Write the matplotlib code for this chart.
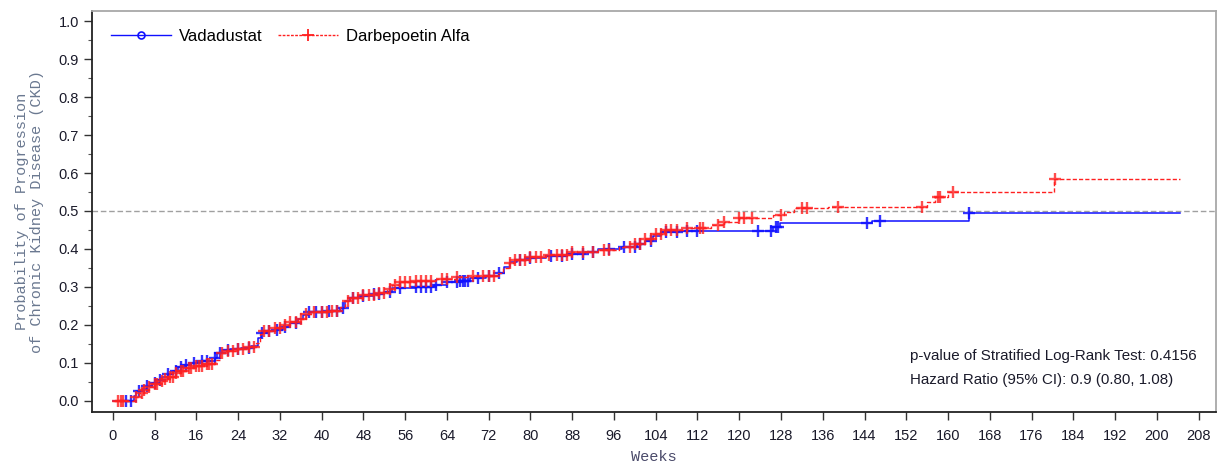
import numpy as np
import matplotlib
matplotlib.use("Agg")
import matplotlib.pyplot as plt

# Kaplan-Meier style cumulative incidence: step times (weeks) and values
vada_t = [0, 4.0, 4.5, 5.5, 6.5, 7.5, 8.5, 9.5, 10.5, 11.5, 12.5, 13.5, 15.0, 17.0,
          19.5, 20.0, 21.0, 22.5, 24.5, 26.5, 27.8, 28.3, 29.5, 31.0, 32.5, 34.0,
          35.5, 36.5, 37.5, 41.0, 43.5, 44.5, 45.5, 47.5, 50.0, 52.0, 53.5, 58.0,
          61.5, 64.0, 66.5, 68.5, 71.5, 74.0, 75.0, 76.0, 77.5, 80.0, 83.0, 87.0,
          90.5, 93.0, 97.5, 100.5, 102.0, 103.5, 105.0, 108.5, 126.5, 127.8, 145.5,
          164.0]
vada_p = [0.0, 0.012, 0.025, 0.032, 0.040, 0.048, 0.055, 0.062, 0.070, 0.078, 0.088,
          0.095, 0.100, 0.104, 0.112, 0.125, 0.133, 0.137, 0.140, 0.145, 0.165, 0.178,
          0.183, 0.188, 0.195, 0.205, 0.215, 0.225, 0.233, 0.238, 0.245, 0.262, 0.270,
          0.276, 0.282, 0.287, 0.297, 0.300, 0.305, 0.312, 0.316, 0.323, 0.330, 0.338,
          0.352, 0.365, 0.372, 0.377, 0.382, 0.387, 0.393, 0.400, 0.405, 0.412, 0.422,
          0.435, 0.444, 0.448, 0.458, 0.469, 0.474, 0.494]
vada_end = 204.4
vada_cens = [2.5, 3.5, 5, 6.5, 8, 9, 10.5, 12, 13, 14, 15.5, 17, 18, 19.5, 20.5, 22,
             24, 26, 28.5, 30, 31.5, 33, 35, 37.5, 39, 40, 41.5, 43, 44, 46, 48, 50,
             51, 53, 55, 58, 59, 60, 61, 62, 64, 66, 66.5, 67, 67.5, 68, 70, 72, 74,
             78, 80, 84, 86, 88, 90, 92, 95, 98, 100, 101, 103, 106, 108, 110, 112,
             123.5, 126, 127, 127.5, 144.5, 147, 164]

darb_t = [0, 4.0, 5.0, 6.0, 7.0, 8.0, 9.0, 10.0, 11.0, 12.0, 13.0, 14.0, 15.5, 17.5,
          19.5, 20.5, 21.5, 23.5, 26.0, 27.5, 28.2, 29.0, 31.0, 32.5, 34.0, 35.5,
          37.0, 38.0, 41.5, 43.5, 44.5, 45.5, 48.0, 51.0, 52.5, 53.5, 55.0, 58.0,
          62.0, 66.0, 69.0, 73.5, 74.8, 75.8, 76.8, 80.0, 83.0, 88.0, 93.0, 97.0,
          100.0, 102.0, 103.5, 105.5, 110.0, 114.5, 117.0, 120.0, 126.5, 128.5,
          130.5, 137.0, 156.0, 157.5, 160.0, 180.3]
darb_p = [0.0, 0.010, 0.020, 0.028, 0.036, 0.044, 0.052, 0.058, 0.064, 0.073, 0.080,
          0.087, 0.093, 0.098, 0.108, 0.125, 0.132, 0.138, 0.142, 0.152, 0.175, 0.185,
          0.192, 0.200, 0.208, 0.216, 0.228, 0.233, 0.238, 0.248, 0.262, 0.272, 0.278,
          0.284, 0.295, 0.305, 0.312, 0.317, 0.322, 0.325, 0.330, 0.336, 0.350, 0.362,
          0.372, 0.378, 0.385, 0.392, 0.398, 0.405, 0.412, 0.425, 0.440, 0.450, 0.456,
          0.463, 0.472, 0.482, 0.489, 0.497, 0.507, 0.511, 0.523, 0.536, 0.549, 0.585]
darb_end = 204.4
darb_cens = [1, 1.5, 2, 4.5, 5.5, 6, 7, 8, 8.5, 9.5, 10, 11, 11.5, 12, 13, 13.5, 14.5,
             15, 16, 16.5, 17, 18, 18.5, 19, 21, 22, 23, 24, 25, 26, 27, 29, 30, 31,
             32, 33, 34, 35, 36, 37, 38.5, 40, 41, 42, 43, 45, 46, 47, 48, 49, 50, 51,
             52, 53, 54, 55, 56, 57, 58, 59, 60, 61, 63, 64, 66, 69, 71, 72, 73, 76,
             77, 78, 79, 80, 81, 82, 83.5, 85, 86, 87, 88, 90, 92, 94, 95, 99, 100,
             101, 102, 103, 104, 105, 106, 107, 108, 110, 112.5, 113, 116, 117, 120,
             121, 122.5, 128, 132, 133, 139, 155, 158, 158.5, 161, 180.5]

x_ticks = list(range(0, 209, 8))
y_ticks = [round(v * 0.1, 1) for v in range(11)]
p_text = "p-value of Stratified Log-Rank Test: 0.4156"
hr_text = "Hazard Ratio (95% CI): 0.9 (0.80, 1.08)"

BLUE = "#1010ff"
RED = "#ff2020"

fig = plt.figure(figsize=(12.17, 4.66), dpi=100)
ax = fig.add_axes([0.0756, 0.116, 0.9234, 0.860])

def step_xy(t, p, end):
    xs = list(t) + [end]
    ys = list(p) + [p[-1]]
    return xs, ys

def value_at(t, p, c):
    idx = np.searchsorted(np.asarray(t), np.asarray(c), side="right") - 1
    return np.asarray(p)[idx]

ax.axhline(0.5, color="#a0a0a0", lw=1.0, ls=(0, (4, 2)), zorder=1)

xs, ys = step_xy(vada_t, vada_p, vada_end)
ax.step(xs, ys, where="post", color=BLUE, lw=1.1, zorder=3)
ax.plot(vada_cens, value_at(vada_t, vada_p, vada_cens), ls="none", marker="+",
        ms=9, mew=1.7, color=BLUE, alpha=0.85, zorder=4)

xs, ys = step_xy(darb_t, darb_p, darb_end)
ax.step(xs, ys, where="post", color=RED, lw=1.0, ls=(0, (3, 1.5)), zorder=5)
ax.plot(darb_cens, value_at(darb_t, darb_p, darb_cens), ls="none", marker="+",
        ms=9, mew=1.7, color=RED, alpha=0.8, zorder=6)

# legend handles
h1, = ax.plot([], [], color=BLUE, lw=1.0, marker="o", ms=5, mfc="none", mew=1.2)
h2, = ax.plot([], [], color=RED, lw=1.0, ls=(0, (2, 1)), marker="+", ms=8, mew=1.3)
leg = ax.legend([h1, h2], ["Vadadustat", "Darbepoetin Alfa"], loc="upper left",
                ncol=2, frameon=False, handlelength=3.6,
                columnspacing=0.9, handletextpad=0.5,
                bbox_to_anchor=(0.005, 0.99), borderaxespad=0.4,
                prop={"family": "Liberation Sans", "size": 12})

ax.set_xlim(-4.0, 211.3)
ax.set_ylim(-0.029, 1.026)
ax.set_xticks(x_ticks)
ax.set_xticklabels([str(v) for v in x_ticks], fontfamily="Liberation Sans", fontsize=10.5)
ax.set_yticks(y_ticks)
ax.set_yticklabels([f"{v:.1f}" for v in y_ticks], fontfamily="Liberation Sans", fontsize=10.5)
ax.set_yticks(np.arange(0.05, 1.0, 0.1), minor=True)
ax.tick_params(axis="both", which="major", direction="out", length=6, width=1.0,
               color="#333333", labelcolor="#1a1a2a")
ax.tick_params(axis="x", which="major", pad=6)
ax.tick_params(axis="y", which="minor", direction="out", length=3, width=0.8,
               color="#555555")

for side in ("left", "bottom"):
    ax.spines[side].set_color("#222222")
    ax.spines[side].set_linewidth(1.3)
for side in ("top", "right"):
    ax.spines[side].set_color("#a8a8a8")
    ax.spines[side].set_linewidth(1.3)

ax.set_xlabel("Weeks", fontfamily="Liberation Mono", fontsize=11, color="#4a4a6a",
              labelpad=5)
ax.set_ylabel("Probability of Progression\nof Chronic Kidney Disease (CKD)",
              fontfamily="Liberation Mono", fontsize=11, color="#6a7890",
              labelpad=10, linespacing=1.15)

ax.text(0.728, 0.14, p_text, transform=ax.transAxes, fontsize=10.9,
        fontfamily="Liberation Sans", color="#1a1a2a", va="center", ha="left")
ax.text(0.728, 0.08, hr_text, transform=ax.transAxes, fontsize=10.9,
        fontfamily="Liberation Sans", color="#1a1a2a", va="center", ha="left")

fig.savefig("out.png", dpi=100)
